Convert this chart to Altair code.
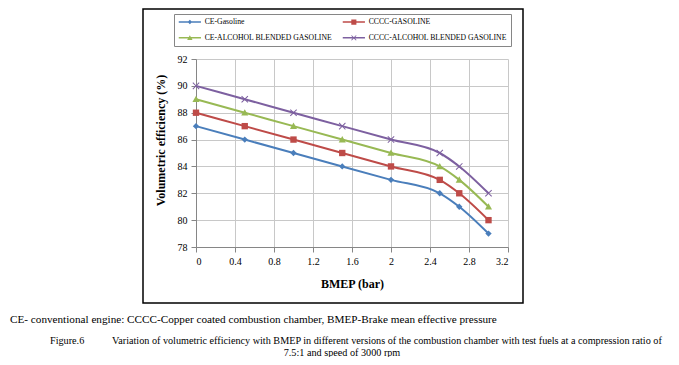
import altair as alt
import pandas as pd

# ---- data ----
bmep = [0, 0.5, 1, 1.5, 2, 2.5, 2.7, 3]
series_names = [
    "CE-Gasoline",
    "CCCC-GASOLINE",
    "CE-ALCOHOL BLENDED GASOLINE",
    "CCCC-ALCOHOL BLENDED GASOLINE",
]
ce_gasoline = [87, 86, 85, 84, 83, 82, 81, 79]
cccc_gasoline = [88, 87, 86, 85, 84, 83, 82, 80]
ce_alcohol = [89, 88, 87, 86, 85, 84, 83, 81]
cccc_alcohol = [90, 89, 88, 87, 86, 85, 84, 82]
x_ticks = [0, 0.4, 0.8, 1.2, 1.6, 2, 2.4, 2.8, 3.2]
y_ticks = [78, 80, 82, 84, 86, 88, 90, 92]

colors = ["#4A7EBB", "#BE4B48", "#98B954", "#7D60A0"]

note_text = "CE- conventional engine:  CCCC-Copper coated combustion chamber, BMEP-Brake mean effective pressure"
fig_label = "Figure.6"
fig_line1 = "Variation of volumetric efficiency with BMEP in different versions of the combustion chamber with test fuels at a compression ratio of"
fig_line2 = "7.5:1 and speed of 3000 rpm"

rows = []
for name, vals in zip(series_names, [ce_gasoline, cccc_gasoline, ce_alcohol, cccc_alcohol]):
    for xv, yv in zip(bmep, vals):
        rows.append({"series": name, "bmep": xv, "eff": yv})
df = pd.DataFrame(rows)

# marker shapes (custom paths)
diamond = "M0,-0.9L0.9,0L0,0.9L-0.9,0Z"
square = "M-0.9,-0.9L0.9,-0.9L0.9,0.9L-0.9,0.9Z"
triangle = "M0,-1L1,0.8L-1,0.8Z"
xmark = "M-1,-0.8L-0.8,-1L0,-0.2L0.8,-1L1,-0.8L0.2,0L1,0.8L0.8,1L0,0.2L-0.8,1L-1,0.8L-0.2,0Z"
plot_shapes = [diamond, square, triangle, xmark]
seg = "M-3.7,-0.25L3.7,-0.25L3.7,0.25L-3.7,0.25Z"
legend_shapes = [
    seg + "M0,-0.75L0.75,0L0,0.75L-0.75,0Z",
    seg + "M-0.85,-0.85L0.85,-0.85L0.85,0.85L-0.85,0.85Z",
    seg + "M0,-0.9L0.9,0.75L-0.9,0.75Z",
    seg + "M-0.9,-0.7L-0.7,-0.9L0,-0.2L0.7,-0.9L0.9,-0.7L0.2,0L0.9,0.7L0.7,0.9L0,0.2L-0.7,0.9L-0.9,0.7L-0.2,0Z",
]

FONT = "Liberation Serif"

x_enc = alt.X(
    "bmep:Q",
    scale=alt.Scale(domain=[0, 3.2], nice=False, zero=False),
    axis=alt.Axis(values=x_ticks, format="~g", title="BMEP (bar)", titlePadding=12,
                  labelFont=FONT, labelFontSize=10),
)
y_enc = alt.Y(
    "eff:Q",
    scale=alt.Scale(domain=[78, 92], nice=False, zero=False),
    axis=alt.Axis(values=y_ticks, title="Volumetric efficiency (%)", titleX=-29, titleY=81,
                  labelFont=FONT, labelFontSize=10),
)
color_scale = alt.Scale(domain=series_names, range=colors)

lines = alt.Chart(df).mark_line(strokeWidth=2, interpolate="monotone").encode(
    x=x_enc, y=y_enc,
    color=alt.Color("series:N", scale=color_scale, legend=None),
    detail="series:N",
)
points = alt.Chart(df).mark_point(filled=True, size=50, opacity=1).encode(
    x=x_enc, y=y_enc,
    color=alt.Color("series:N", scale=color_scale, legend=None),
    shape=alt.Shape("series:N", scale=alt.Scale(domain=series_names, range=plot_shapes), legend=None),
)
leg = alt.Legend(
    title=None, orient="none", legendX=-22, legendY=-45, columns=2,
    direction="horizontal",
    strokeColor="#868686", fillColor="white", padding=4,
    labelFont=FONT, labelFontSize=7.7, labelColor="#000000", labelLimit=400,
    symbolSize=36, symbolStrokeWidth=0, labelOffset=11,
    columnPadding=10, rowPadding=7, symbolOffset=8,
)
legend_layer = alt.Chart(df).transform_filter("datum.bmep < -100").mark_point(filled=True, opacity=1).encode(
    x=x_enc, y=y_enc,
    color=alt.Color("series:N", scale=color_scale, legend=leg),
    shape=alt.Shape("series:N", scale=alt.Scale(domain=series_names, range=legend_shapes), legend=leg),
)

one = pd.DataFrame({"k": [0]})
border = alt.Chart(one).mark_rect(fill=None, stroke="#000000", strokeWidth=1.5).encode(
    x=alt.value(-53), x2=alt.value(327), y=alt.value(-50), y2=alt.value(244)
)
note = alt.Chart(one).mark_text(font=FONT, fontSize=11.2, align="left", baseline="middle", color="#000").encode(
    x=alt.value(-186), y=alt.value(261), text=alt.value(note_text)
)
figl = alt.Chart(one).mark_text(font=FONT, fontSize=10.2, align="left", baseline="middle", color="#000").encode(
    x=alt.value(-146), y=alt.value(282), text=alt.value(fig_label)
)
fig1 = alt.Chart(one).mark_text(font=FONT, fontSize=10.2, align="left", baseline="middle", color="#000").encode(
    x=alt.value(-84), y=alt.value(282), text=alt.value(fig_line1)
)
fig2 = alt.Chart(one).mark_text(font=FONT, fontSize=10.2, align="center", baseline="middle", color="#000").encode(
    x=alt.value(146), y=alt.value(294), text=alt.value(fig_line2)
)

chart = alt.layer(border, lines, points, legend_layer, note, figl, fig1, fig2).resolve_scale(
    shape="independent", color="independent"
).resolve_legend(shape="independent", color="independent").properties(
    width=312, height=188,
    autosize=alt.AutoSizeParams(type="none"),
    padding={"left": 188, "top": 51, "right": 163, "bottom": 110},
).configure_view(stroke=None).configure_axis(
    labelFont=FONT, labelFontSize=10, labelColor="#000000",
    titleFont=FONT, titleFontSize=12, titleFontWeight="bold", titleColor="#000000",
    domainColor="#868686", tickColor="#868686", tickSize=5,
    gridColor="#C8C8C8", gridWidth=1, labelPadding=4,
)

chart.save("out.html", embed_options={"renderer": "svg", "actions": False})
